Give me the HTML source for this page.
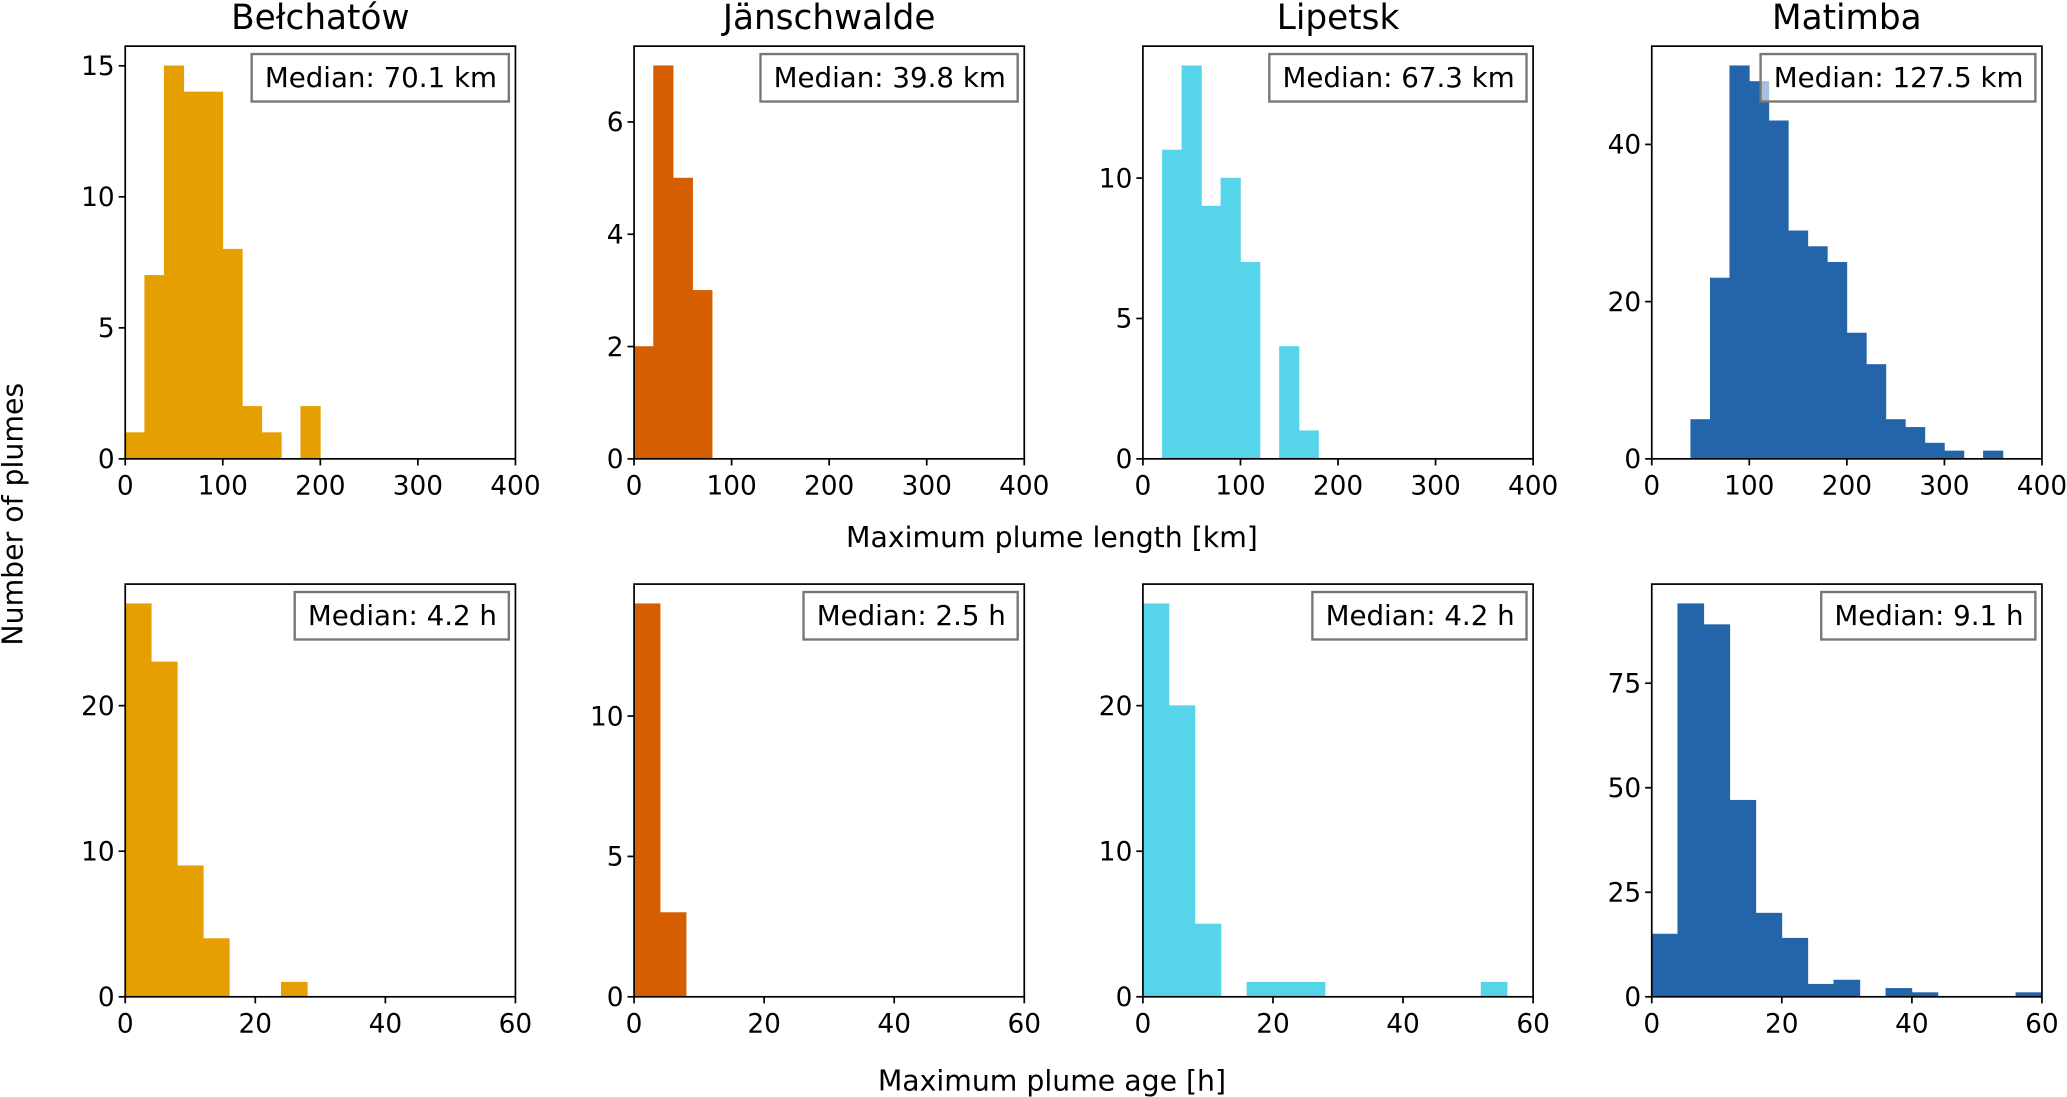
<!DOCTYPE html>
<html><head><meta charset="utf-8">
<style>
html,body{margin:0;padding:0;background:#fff;}
svg{display:block;}
text{font-family:"DejaVu Sans","Liberation Sans",sans-serif;fill:#000;}
</style></head>
<body>
<svg id="fig" width="2067" height="1097" viewBox="0 0 1568 832" preserveAspectRatio="none" xmlns="http://www.w3.org/2000/svg">
<text x="798" y="415" font-size="21.5" text-anchor="middle">Maximum plume length [km]</text>
<text x="798" y="827" font-size="21.5" text-anchor="middle">Maximum plume age [h]</text>
<text x="0" y="0" font-size="21.5" text-anchor="middle" transform="translate(17,390) rotate(-90)">Number of plumes</text>
</svg>
<script>
const sites = ["Bełchatów","Jänschwalde","Lipetsk","Matimba"];
const colors = ["#E69F00","#D55E00","#56D4E9","#2465AA"];
// length histograms: bin width 20 km starting at 0
const lenBelchatow = [1,7,15,14,14,8,2,1,0,2];
const lenJanschwalde = [2,7,5,3];
const lenLipetsk = [0,11,14,9,10,7,0,4,1];
const lenMatimba = [0,0,5,23,50,48,43,29,27,25,16,12,5,4,2,1,0,1];
// age histograms: bin width 4 h starting at 0
const ageBelchatow = [27,23,9,4,0,0,1];
const ageJanschwalde = [14,3];
const ageLipetsk = [27,20,5,0,1,1,1,0,0,0,0,0,0,1];
const ageMatimba = [15,94,89,47,20,14,3,4,0,2,1,0,0,0,1];
const lenMedians = ["Median: 70.1 km","Median: 39.8 km","Median: 67.3 km","Median: 127.5 km"];
const ageMedians = ["Median: 4.2 h","Median: 2.5 h","Median: 4.2 h","Median: 9.1 h"];
const lenYTicks = [[0,5,10,15],[0,2,4,6],[0,5,10],[0,20,40]];
const ageYTicks = [[0,10,20],[0,5,10],[0,10,20],[0,25,50,75]];
const lenXTicks = [0,100,200,300,400];
const ageXTicks = [0,20,40,60];

const NS="http://www.w3.org/2000/svg";
const svg=document.getElementById('fig');
function el(tag,attrs,parent){const e=document.createElementNS(NS,tag);for(const k in attrs)e.setAttribute(k,attrs[k]);(parent||svg).appendChild(e);return e;}
const X0=[95,481,867,1253], W=296;
const rows=[{top:35,bot:348,data:[lenBelchatow,lenJanschwalde,lenLipetsk,lenMatimba],bw:20,xmax:400,xt:lenXTicks,yt:lenYTicks,med:lenMedians,key:'length'},
            {top:443,bot:756,data:[ageBelchatow,ageJanschwalde,ageLipetsk,ageMatimba],bw:4,xmax:60,xt:ageXTicks,yt:ageYTicks,med:ageMedians,key:'age'}];
rows.forEach((r,ri)=>{
  for(let p=0;p<4;p++){
    const d=r.data[p];
    const g=el('g',{});
    
    
    const ymax=Math.max(...d)*1.05;
    const xs=v=>X0[p]+v/r.xmax*W;
    const ys=v=>r.bot-v/ymax*(r.bot-r.top);
    if(ri===0){
      const t=el('text',{x:X0[p]+W/2,y:22,'font-size':26,'text-anchor':'middle'},g);
      t.textContent=sites[p];
      
      
    }
    d.forEach((v,i)=>{
      if(v<=0)return;
      const b=el('rect',{x:xs(i*r.bw),y:ys(v),width:xs((i+1)*r.bw)-xs(i*r.bw),height:r.bot-ys(v),fill:colors[p],stroke:colors[p],'stroke-width':0.5},g);
      
      
    });
    const frame=el('rect',{x:X0[p],y:r.top,width:W,height:r.bot-r.top,fill:'none',stroke:'#000','stroke-width':1.3},g);
    
    
    r.xt.forEach(v=>{
      el('line',{x1:xs(v),x2:xs(v),y1:r.bot,y2:r.bot+5,stroke:'#000','stroke-width':1.3},g);
      const t=el('text',{x:xs(v),y:r.bot+27,'font-size':20,'text-anchor':'middle'},g);
      t.textContent=v;
      
      
    });
    r.yt[p].forEach(v=>{
      el('line',{x1:X0[p]-5,x2:X0[p],y1:ys(v),y2:ys(v),stroke:'#000','stroke-width':1.3},g);
      const t=el('text',{x:X0[p]-8,y:ys(v)+7,'font-size':20,'text-anchor':'end'},g);
      t.textContent=v;
      
      
    });
    const box=el('rect',{fill:'#fff','fill-opacity':0.6,stroke:'#777','stroke-width':1.8},g);
    
    
    const mt=el('text',{x:X0[p]+W-14,y:r.top+31,'font-size':21,'text-anchor':'end'},g);
    mt.textContent=r.med[p];
    
    
    const tw=mt.getComputedTextLength();
    const bx=X0[p]+W-14-tw-10;
    box.setAttribute('x',bx);box.setAttribute('y',r.top+6);
    box.setAttribute('width',X0[p]+W-5-bx);box.setAttribute('height',36);
  }
});
</script>
</body></html>
